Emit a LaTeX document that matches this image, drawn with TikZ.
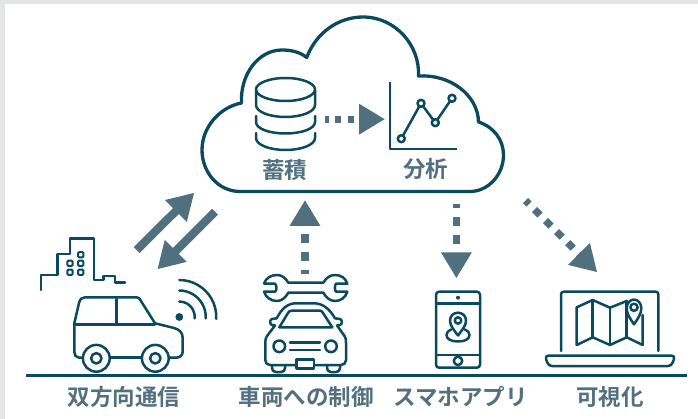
\documentclass[tikz,border=0pt]{standalone}
\usepackage{fontspec}
\setmainfont{Noto Sans CJK JP}[BoldFont={Noto Sans CJK JP Bold}]
\usetikzlibrary{arrows.meta}
\definecolor{linec}{HTML}{0B4A5E}
\definecolor{arrowc}{HTML}{50707F}
\definecolor{textc}{HTML}{527080}
\definecolor{bandc}{HTML}{E4E5E7}
\tikzset{
  ink/.style={draw=linec,line width=2.5pt,line join=round,line cap=round},
  thick ink/.style={draw=linec,line width=3.3pt,line join=round,line cap=round},
  lab/.style={text=textc,font=\bfseries\fontsize{22.5}{23}\selectfont,inner sep=0pt,anchor=center},
  dashconn/.style={draw=arrowc,line width=7.2pt,-{Triangle[length=26pt,width=29pt,fill=arrowc]}},
  solidconn/.style={draw=arrowc,line width=8.3pt,-{Triangle[length=26pt,width=29pt,fill=arrowc]}}
}
\begin{document}
\begin{tikzpicture}[x=1pt,y=-1pt]
\useasboundingbox (0,0) rectangle (698,419);
\fill[white] (0,0) rectangle (698,419);
\fill[bandc] (0,0) rectangle (698,4);
\fill[bandc] (0,0) rectangle (5,419);
% cloud
\draw[thick ink] (240,191.5) .. controls (218,191.5) and (202,172) .. (202,150)
  .. controls (202,127) and (220,107) .. (241.5,103)
  .. controls (240,75) and (258,50) .. (282,50)
  .. controls (291,50) and (300,52) .. (306.7,57.5)
  .. controls (316,33) and (338,17) .. (363,17)
  .. controls (395,17) and (420,45) .. (418.5,76)
  .. controls (450,74) and (478,95) .. (478.5,122)
  .. controls (494,127) and (503.5,140) .. (503.5,155)
  .. controls (503.5,175) and (488,191.5) .. (470,191.5) -- cycle;
% database
\draw[ink] (285.5,89.5) ellipse [x radius=29.5pt,y radius=11.5pt];
\draw[ink] (256,90) -- (256,105) .. controls (256,112) and (270,117) .. (285.5,117) .. controls (301,117) and (315,112) .. (315,105) -- (315,90);
\draw[ink] (256,116) -- (256,122) .. controls (256,129) and (270,133.5) .. (285.5,133.5) .. controls (301,133.5) and (315,129) .. (315,122) -- (315,116);
\draw[ink] (256,133) -- (256,138) .. controls (256,145) and (270,150) .. (285.5,150) .. controls (301,150) and (315,145) .. (315,138) -- (315,133);
\node[lab] (store) at (284.5,169.5) {蓄積};
\node[lab] (analysis) at (425.7,169.5) {分析};
% chart
\draw[ink,line width=2.6pt,line cap=butt] (390,82.3) -- (390,149) -- (457.3,149);
\coordinate (p1) at (401.3,138.7);
\coordinate (p2) at (421,103.3);
\coordinate (p3) at (435.3,122.7);
\coordinate (p4) at (452,98.3);
\draw[ink] (p1) -- (p2) -- (p3) -- (p4);
\foreach \p in {p1,p2,p3,p4} \draw[ink,fill=white] (\p) circle[radius=3.5pt];
% connectors
\coordinate (a1) at (325,119.2);  \coordinate (a2) at (385,119.2);
\draw[dashconn,dash pattern=on 6.6pt off 6.2pt,dash phase=3pt] (a1) -- (a2);
\coordinate (b1) at (136.7,250);  \coordinate (b2) at (194.3,192.7);
\draw[solidconn] (b1) -- (b2);
\coordinate (c1) at (215,211.7);  \coordinate (c2) at (157.3,269.3);
\draw[solidconn] (c1) -- (c2);
\coordinate (d1) at (305,274);    \coordinate (d2) at (305,200);
\draw[dashconn,dash pattern=on 9pt off 9pt,dash phase=5pt] (d1) -- (d2);
\coordinate (e1) at (456.4,204.3);\coordinate (e2) at (456.4,278.3);
\draw[dashconn,dash pattern=on 9pt off 9pt,dash phase=5pt] (e1) -- (e2);
\coordinate (f1) at (525.5,200.5);\coordinate (f2) at (597.3,272.3);
\draw[dashconn,dash pattern=on 7.8pt off 7.8pt,dash phase=2.8pt] (f1) -- (f2);
% building
\draw[ink] (41,290) -- (41,275) -- (57.3,275) -- (57.3,254) -- (70,254) -- (70,238.3) -- (94,238.3) -- (94,280) -- (103.3,280) -- (103.3,276) -- (115,276) -- (115,282.3) -- (125,282.3);
\foreach \q in {(80.7,254.7),(70,263.3),(80.7,263.3),(70,272.3),(80.7,272.3)}
  \draw[draw=linec,line width=2pt,rounded corners=1pt] \q ++(-2.6,-2.6) rectangle ++(5.2,5.2);
% side car
\draw[ink] (82.7,357.7) -- (79,357.7) .. controls (76,357.7) and (74.3,355) .. (74.3,352) -- (74.3,323.3) -- (79,303)
  .. controls (80,299) and (82,297.3) .. (85,297.3) -- (136,297.3) .. controls (138,297.3) and (139,298) .. (140,299.5)
  -- (155,323.3) -- (174,328) .. controls (179,329.5) and (182.7,332) .. (182.7,338) -- (182.7,351.7)
  .. controls (182.7,355) and (180,357.7) .. (176,357.7) -- (169,357.7);
\draw[ink] (110,357.7) -- (141.7,357.7);
\draw[ink] (75,324.3) -- (155,324.3);
\draw[ink] (116.3,299) -- (116.3,324.3);
\foreach \c in {96.3,155.3}{
  \draw[ink] (\c,358.3) circle[radius=13.4pt];
  \draw[ink] (\c,358.3) circle[radius=5.2pt];
}
\fill[linec] (179.3,317) circle[radius=3.9pt];
\draw[ink] (179.3,301.5) arc[start angle=90,end angle=-5,radius=15.5pt];
\draw[ink] (179.3,290.5) arc[start angle=90,end angle=-3,radius=26.5pt];
\draw[ink] (179.3,280) arc[start angle=90,end angle=-3,radius=37pt];
% wrench
\draw[ink] (264,283.5) .. controls (266,278) and (271,275) .. (277,275) .. controls (282,275) and (285.5,278) .. (288.3,282.7)
  -- (323.3,282.7) .. controls (326,278) and (330,275) .. (335,275) .. controls (341,275) and (345.5,278) .. (347.3,283.7)
  -- (336,283.7) .. controls (334.5,285) and (334.5,290.5) .. (336,291.7) -- (347.3,291.7)
  .. controls (345.5,297.5) and (341,301) .. (335,301) .. controls (330,301) and (326,297.5) .. (323.3,292.7)
  -- (288.3,292.7) .. controls (285.5,297.5) and (282,301) .. (277,301) .. controls (271,301) and (266,297.5) .. (264,291.7)
  -- (275,291.7) .. controls (277,290.5) and (277,285) .. (275,283.7) -- cycle;
% front car
\draw[ink] (276.7,318.3) .. controls (282,308) and (288,303.3) .. (296,303.3) -- (314,303.3) .. controls (322,303.3) and (329,308) .. (335,318.3);
\draw[ink] (279.3,327.3) -- (288,313) .. controls (289,311) and (290,310.7) .. (292,310.7) -- (320,310.7) .. controls (321,310.7) and (322,311) .. (323,313) -- (332.3,327.3) -- cycle;
\draw[ink] (276.7,318.3) -- (272,319) .. controls (269.5,320) and (269.5,324) .. (272,325) -- (275,325.5)
  -- (267,336) .. controls (265.5,338) and (265.3,340) .. (265.3,343) -- (265.3,360) .. controls (265.3,363) and (267,365) .. (270,365)
  -- (296.7,365);
\draw[ink] (335,318.3) -- (340,319) .. controls (342.5,320) and (342.5,324) .. (340,325) -- (337,325.5)
  -- (344.5,336) .. controls (346,338) and (346,340) .. (346,343) -- (346,360) .. controls (346,363) and (344,365) .. (341,365)
  -- (314,365);
\draw[ink] (296.7,359.3) rectangle (314,368.3);
\draw[ink] (272,365) -- (272,368) .. controls (272,370.5) and (273.5,372) .. (276,372) -- (281,372) .. controls (283.5,372) and (285,370.5) .. (285,368) -- (285,365);
\draw[ink] (327,365) -- (327,368) .. controls (327,370.5) and (328.5,372) .. (331,372) -- (336,372) .. controls (338.5,372) and (340,370.5) .. (340,368) -- (340,365);
\draw[ink] (279.3,346.3) circle[radius=5.8pt];
\draw[ink] (331,346.3) circle[radius=5.8pt];
\draw[ink] (290,342.7) -- (320,342.7);
\draw[ink] (290,350) -- (320,350);
% phone
\draw[ink,rounded corners=3pt] (436,291.7) rectangle (480,367.7);
\draw[ink] (436,303.3) -- (480,303.3);
\draw[ink] (436,355) -- (480,355);
\fill[linec] (458,297.7) circle[radius=2pt];
\draw[ink] (458,360.9) circle[radius=4.2pt];
\draw[ink] (451,329.5) .. controls (448,331) and (446.5,332.5) .. (446.5,335) .. controls (446.5,339) and (451,341.5) .. (458,341.5) .. controls (465,341.5) and (469.5,339) .. (469.5,335) .. controls (469.5,332.5) and (468,331) .. (465,329.5);
\draw[ink,fill=white] (458,335.5) .. controls (454,330) and (450,326) .. (450,320.5) .. controls (450,316) and (453.5,312.7) .. (458,312.7) .. controls (462.5,312.7) and (466,316) .. (466,320.5) .. controls (466,326) and (462,330) .. (458,335.5) -- cycle;
\draw[ink] (458,320.5) circle[radius=3.2pt];
% laptop
\draw[ink,rounded corners=2.5pt] (561,351) -- (561,291.7) -- (658.3,291.7) -- (658.3,351);
\draw[ink] (548,355.7) -- (672,355.7) .. controls (674,355.7) and (674.5,357) .. (674,359) -- (673,362) .. controls (672,365) and (670,366) .. (668,366) -- (552,366) .. controls (550,366) and (548,365) .. (547,362) -- (546,359) .. controls (545.5,357) and (546,355.7) .. (548,355.7) -- cycle;
\draw[ink] (626.7,301) -- (610,307.7) -- (592.7,300) -- (576.7,307.3) -- (576.7,345) -- (592.7,337.3) -- (610,345) -- (626.7,337.3) -- (642.7,345) -- (642.7,315);
\draw[ink] (592.7,300) -- (592.7,337.3);
\draw[ink] (610,307.7) -- (610,345);
\draw[ink] (626.7,301) -- (626.7,337.3);
\draw[ink,fill=white] (634,324.3) .. controls (630,318.5) and (626.7,314) .. (626.7,308) .. controls (626.7,303.5) and (630,299.5) .. (634,299.5) .. controls (638,299.5) and (641.3,303.5) .. (641.3,308) .. controls (641.3,314) and (638,318.5) .. (634,324.3) -- cycle;
\draw[ink] (634,307.3) circle[radius=3.6pt];
% ground
\coordinate (g1) at (26,375.7); \coordinate (g2) at (686.7,375.7);
\draw[draw=linec,line width=2.8pt] (g1) -- (g2);
% labels
\node[lab] (l1) at (124.2,397) {双方向通信};
\node[lab] (l2) at (306,397) {車両への制御};
\node[lab] (l3) at (460.5,397) {スマホアプリ};
\node[lab] (l4) at (610,397) {可視化};
\end{tikzpicture}
\end{document}
